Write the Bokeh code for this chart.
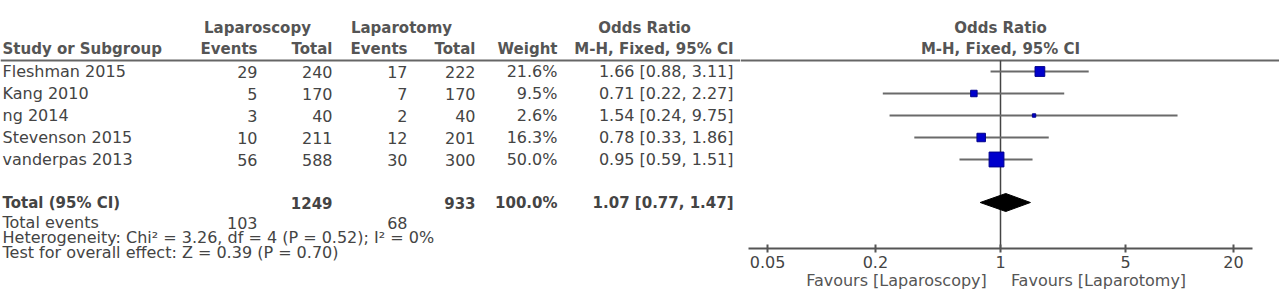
from bokeh.plotting import figure
from bokeh.models import Range1d, FixedTicker, ColumnDataSource, LogAxis
from bokeh.layouts import row, column
from bokeh.embed import file_html
from bokeh.resources import INLINE
from bokeh.core.properties import value
import math

# ---------------- data ----------------
studies = ["Fleshman 2015", "Kang 2010", "ng 2014", "Stevenson 2015", "vanderpas 2013"]
lap_events = [29, 5, 3, 10, 56]
lap_total = [240, 170, 40, 211, 588]
open_events = [17, 7, 2, 12, 30]
open_total = [222, 170, 40, 201, 300]
weights = [21.6, 9.5, 2.6, 16.3, 50.0]
or_est = [1.66, 0.71, 1.54, 0.78, 0.95]
or_lo = [0.88, 0.22, 0.24, 0.33, 0.59]
or_hi = [3.11, 2.27, 9.75, 1.86, 1.51]

total_label = "Total (95% CI)"
total_lap = 1249
total_open = 933
total_weight = 100.0
total_or = 1.07
total_lo = 0.77
total_hi = 1.47
events_label = "Total events"
events_lap = 103
events_open = 68
het_text = "Heterogeneity: Chi\u00b2 = 3.26, df = 4 (P = 0.52); I\u00b2 = 0%"
test_text = "Test for overall effect: Z = 0.39 (P = 0.70)"

axis_ticks = [0.05, 0.2, 1, 5, 20]
axis_tick_labels = ["0.05", "0.2", "1", "5", "20"]
favours_left = "Favours [Laparoscopy]"
favours_right = "Favours [Laparotomy]"

# ---------------- layout constants ----------------
FONT = "DejaVu Sans"
TXT = "#444444"
HDR = "#555555"
FS = "16px"      # body text
FSB = "15px"     # bold header / total text
H = 299
WL = 740
WR = 1279 - WL
AX_BOTTOM = 248
ROW0 = 71
ROWSTEP = 22
row_y = [ROW0 + ROWSTEP * i for i in range(len(studies))]
y_total = 202
y_events = 222
y_het = 237
y_test = 252
y_hdr1 = 27
y_hdr2 = 48
y_line = 60

# column right edges
c_ev1, c_tot1, c_ev2, c_tot2, c_wt, c_ci = 257, 332, 407, 475, 557, 733

pl = figure(width=WL, height=H, x_range=Range1d(0, WL), y_range=Range1d(H, 0),
            output_backend="svg", toolbar_location=None, min_border=0,
            x_axis_location=None, y_axis_location=None)
pl.grid.visible = False
pl.outline_line_color = None


def txt(fig, xs, ys, texts, align="left", bold=False, color=TXT):
    src = ColumnDataSource(dict(x=xs, y=ys, t=texts))
    fig.text(x="x", y="y", text="t", source=src, text_align=align,
             text_baseline="middle", text_font=value(FONT),
             text_font_size=FSB if bold else FS,
             text_color=color, text_font_style="bold" if bold else "normal")


# headers
txt(pl, [257, 401, 644], [y_hdr1] * 3, ["Laparoscopy", "Laparotomy", "Odds Ratio"],
    align="center", bold=True, color=HDR)
txt(pl, [2], [y_hdr2], ["Study or Subgroup"], bold=True, color=HDR)
txt(pl, [c_ev1, c_tot1, c_ev2, c_tot2, c_wt, c_ci], [y_hdr2] * 6,
    ["Events", "Total", "Events", "Total", "Weight", "M-H, Fixed, 95% CI"],
    align="right", bold=True, color=HDR)
pl.segment(x0=[0], y0=[y_line], x1=[WL], y1=[y_line], line_color="#666666", line_width=2)

# study rows
txt(pl, [2] * len(studies), row_y, studies)
txt(pl, [c_ev1] * 5, row_y, [str(v) for v in lap_events], align="right")
txt(pl, [c_tot1] * 5, row_y, [str(v) for v in lap_total], align="right")
txt(pl, [c_ev2] * 5, row_y, [str(v) for v in open_events], align="right")
txt(pl, [c_tot2] * 5, row_y, [str(v) for v in open_total], align="right")
txt(pl, [c_wt] * 5, row_y, [f"{w:.1f}%" for w in weights], align="right")
txt(pl, [c_ci] * 5, row_y, [f"{o:.2f} [{l:.2f}, {h:.2f}]" for o, l, h in zip(or_est, or_lo, or_hi)],
    align="right")

# total row
txt(pl, [2], [y_total], [total_label], bold=True)
txt(pl, [c_tot1, c_tot2, c_wt, c_ci], [y_total] * 4,
    [str(total_lap), str(total_open), f"{total_weight:.1f}%",
     f"{total_or:.2f} [{total_lo:.2f}, {total_hi:.2f}]"], align="right", bold=True)
txt(pl, [2], [y_events], [events_label])
txt(pl, [c_ev1, c_ev2], [y_events] * 2, [str(events_lap), str(events_open)], align="right")
txt(pl, [2], [y_het], [het_text])
txt(pl, [2], [y_test], [test_text])

# ---------------- forest plot ----------------
PX_DEC = 179.0
X_ONE = 1000.0


def px2or(px):
    return 10 ** ((px - X_ONE) / PX_DEC)


pr = figure(width=WR, height=H, x_axis_type="log",
            x_range=Range1d(px2or(WL), px2or(1279)), y_range=Range1d(AX_BOTTOM, 0),
            output_backend="svg", toolbar_location=None,
            min_border_left=0, min_border_right=0, min_border_top=0,
            min_border_bottom=H - AX_BOTTOM, y_axis_location=None)
pr.grid.visible = False
pr.outline_line_color = None

ax = pr.xaxis[0]
ax.ticker = FixedTicker(ticks=axis_ticks, minor_ticks=[])
ax.major_label_overrides = {t: l for t, l in zip(axis_ticks, axis_tick_labels)}
ax.bounds = (px2or(748), px2or(1252))
ax.axis_line_color = "#555555"
ax.axis_line_width = 2
ax.major_tick_line_color = "#555555"
ax.major_tick_line_width = 2
ax.major_tick_in = 4
ax.major_tick_out = 4
ax.minor_tick_line_color = None
ax.major_label_standoff = 3
ax.major_label_text_font = FONT
ax.major_label_text_font_size = FS
ax.major_label_text_color = TXT

# "favours" captions: a second, line-less log axis whose two labels sit at the
# centre of each caption
fav_pos = [px2or(896), px2or(1098)]
fav_axis = LogAxis(ticker=FixedTicker(ticks=fav_pos, minor_ticks=[]),
                   major_label_overrides={fav_pos[0]: favours_left, fav_pos[1]: favours_right},
                   axis_line_color=None, major_tick_line_color=None, minor_tick_line_color=None,
                   major_tick_in=0, major_tick_out=0, major_label_standoff=0,
                   major_label_text_font=FONT, major_label_text_font_size=FS,
                   major_label_text_color="#555555")
pr.add_layout(fav_axis, "below")

# header
txt(pr, [1, 1], [y_hdr1, y_hdr2], ["Odds Ratio", "M-H, Fixed, 95% CI"], align="center",
    bold=True, color=HDR)
pr.segment(x0=[px2or(WL)], y0=[y_line], x1=[px2or(1279)], y1=[y_line], line_color="#666666",
           line_width=2)

# line of no effect
pr.segment(x0=[1], y0=[y_line], x1=[1], y1=[AX_BOTTOM], line_color="#444444", line_width=1.5)

# CIs and squares
pr.segment(x0=or_lo, y0=row_y, x1=or_hi, y1=row_y, line_color="#6a6a6a", line_width=2)
sizes = [2.1 * math.sqrt(w) for w in weights]
pr.scatter(x=or_est, y=row_y, size=sizes, marker="square", fill_color="#0000cc",
           line_color="#00008b", line_width=1)

# diamond
hd = 9
pr.patches(xs=[[total_lo, total_or, total_hi, total_or]],
           ys=[[y_total, y_total - hd, y_total, y_total + hd]],
           fill_color="black", line_color="black")

layout = row(column(pl, spacing=0), pr, spacing=0)
open("out.html", "w").write(file_html(layout, INLINE))
